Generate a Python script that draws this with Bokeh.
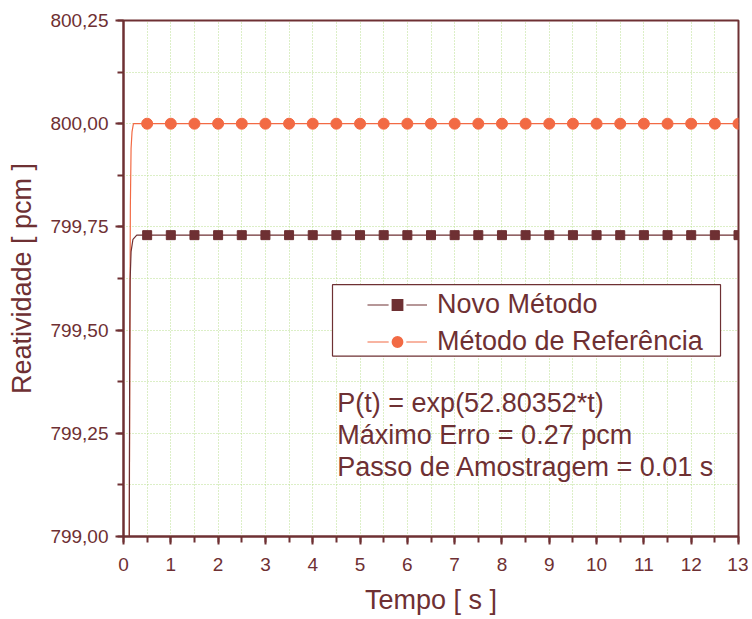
from bokeh.plotting import figure
from bokeh.models import (Range1d, SingleIntervalTicker, CustomJSTickFormatter, Legend,
                          LegendItem, Label, BoxAnnotation, ColumnDataSource)
from bokeh.embed import file_html
from bokeh.resources import INLINE

# ---- data ----
marker_t = [0.5, 1.0, 1.5, 2.0, 2.5, 3.0, 3.5, 4.0, 4.5, 5.0, 5.5, 6.0, 6.5,
            7.0, 7.5, 8.0, 8.5, 9.0, 9.5, 10.0, 10.5, 11.0, 11.5, 12.0, 12.5, 13.0]
novo_marker_vals = [799.73, 799.73, 799.73, 799.73, 799.73, 799.73, 799.73, 799.73, 799.73,
                    799.73, 799.73, 799.73, 799.73, 799.73, 799.73, 799.73, 799.73, 799.73,
                    799.73, 799.73, 799.73, 799.73, 799.73, 799.73, 799.73, 799.73]
ref_marker_vals = [800.00, 800.00, 800.00, 800.00, 800.00, 800.00, 800.00, 800.00, 800.00,
                   800.00, 800.00, 800.00, 800.00, 800.00, 800.00, 800.00, 800.00, 800.00,
                   800.00, 800.00, 800.00, 800.00, 800.00, 800.00, 800.00, 800.00]

novo_line_t = [0.12, 0.13, 0.14, 0.16, 0.20, 0.28, 13.0]
novo_line_vals = [798.90, 799.40, 799.62, 799.69, 799.72, 799.73, 799.73]
ref_line_t = [0.12, 0.135, 0.145, 0.16, 0.18, 0.21, 13.0]
ref_line_vals = [798.90, 799.50, 799.80, 799.94, 799.98, 800.00, 800.00]

legend_labels = ["Novo Método", "Método de Referência"]
info_lines = ["P(t) = exp(52.80352*t)", "Máximo Erro = 0.27 pcm",
              "Passo de Amostragem = 0.01 s"]
x_title = "Tempo [ s ]"
y_title = "Reatividade [ pcm ]"

# ---- styles ----
MAROON = "#6e3033"
ORANGE = "#f26a44"
GRID = "#b9de8e"
FONT = "Liberation Sans"

p = figure(width=748, height=617, output_backend="svg", toolbar_location=None,
           x_range=Range1d(0, 13), y_range=Range1d(799.0, 800.25),
           min_border_left=123, min_border_right=10, min_border_top=20,
           min_border_bottom=79)

p.background_fill_color = "white"
p.border_fill_color = "white"
p.outline_line_color = MAROON
p.outline_line_width = 2

p.xaxis.ticker = SingleIntervalTicker(interval=1, num_minor_ticks=2)
p.yaxis.ticker = SingleIntervalTicker(interval=0.25, num_minor_ticks=2)
p.yaxis.formatter = CustomJSTickFormatter(code="return tick.toFixed(2).replace('.', ',');")
p.xaxis.formatter = CustomJSTickFormatter(code="return tick.toFixed(0);")

for ax in (p.xaxis[0], p.yaxis[0]):
    ax.axis_line_color = MAROON
    ax.axis_line_width = 2
    ax.major_tick_line_color = MAROON
    ax.major_tick_line_width = 2
    ax.minor_tick_line_color = MAROON
    ax.minor_tick_line_width = 2
    ax.major_tick_out = 8
    ax.major_tick_in = 0
    ax.minor_tick_out = 6
    ax.minor_tick_in = 0
    ax.major_label_text_font = FONT
    ax.major_label_text_font_size = "19px"
    ax.major_label_text_color = MAROON
    ax.axis_label_text_font = FONT
    ax.axis_label_text_font_size = "27px"
    ax.axis_label_text_font_style = "normal"
    ax.axis_label_text_color = MAROON

p.xaxis.axis_label = x_title
p.yaxis.axis_label = y_title
p.xaxis.major_label_standoff = 13
p.yaxis.major_label_standoff = 7
p.xaxis.axis_label_standoff = 11
p.yaxis.axis_label_standoff = 10

p.xgrid.grid_line_color = None
p.ygrid.grid_line_color = None
p.xgrid.minor_grid_line_color = GRID
p.ygrid.minor_grid_line_color = GRID
p.xgrid.minor_grid_line_dash = "1 2"
p.ygrid.minor_grid_line_dash = "1 2"
p.xgrid.minor_grid_line_width = 1
p.ygrid.minor_grid_line_width = 1

ref_line = p.line(ref_line_t, ref_line_vals, line_color=ORANGE, line_width=1.2)
novo_line = p.line(novo_line_t, novo_line_vals, line_color=MAROON, line_width=1.2)
ref_pts = p.scatter(marker_t, ref_marker_vals, marker="circle", size=11,
                    fill_color=ORANGE, line_color=ORANGE)
novo_pts = p.scatter(marker_t, novo_marker_vals, marker="square", size=9,
                     fill_color=MAROON, line_color=MAROON)

# legend-only markers (white rim gives the gap seen in the legend); no visible points
nan_src = ColumnDataSource(data=dict(x=[float("nan")], y=[float("nan")]))
leg_sq = p.scatter("x", "y", source=nan_src, marker="square", size=11,
                   fill_color=MAROON, line_color="white", line_width=3)
leg_ci = p.scatter("x", "y", source=nan_src, marker="circle", size=12,
                   fill_color=ORANGE, line_color="white", line_width=3)

# legend frame
box = BoxAnnotation(left=4.418, right=12.62, top=799.61, bottom=799.437,
                    fill_color="white", fill_alpha=1.0, line_color=MAROON,
                    line_width=1.2, line_alpha=1.0)
p.add_layout(box)

legend = Legend(items=[LegendItem(label=legend_labels[0], renderers=[novo_line, leg_sq]),
                       LegendItem(label=legend_labels[1], renderers=[ref_line, leg_ci])],
                location=(244, 176), padding=0, margin=0, spacing=0,
                glyph_width=60, glyph_height=37, label_height=37,
                label_standoff=10, border_line_color=None,
                background_fill_alpha=0.0,
                label_text_font=FONT, label_text_font_size="27px",
                label_text_color=MAROON)
p.add_layout(legend)

info_y = [799.324, 799.246, 799.169]
for txt, yy in zip(info_lines, info_y):
    p.add_layout(Label(x=4.52, y=yy, text=txt, text_font=FONT,
                       text_font_size="27px", text_color=MAROON,
                       text_baseline="alphabetic", text_align="left"))

open("out.html", "w").write(file_html(p, INLINE))
